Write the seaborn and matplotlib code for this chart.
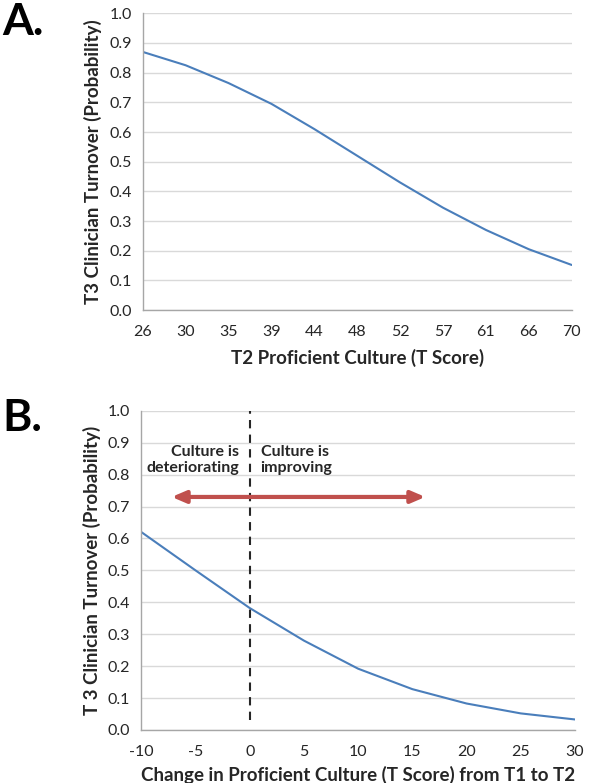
import matplotlib
matplotlib.use("Agg")
import matplotlib.pyplot as plt
import seaborn as sns
import numpy as np
import pandas as pd

# Panel A data
a_labels = ["26", "30", "35", "39", "44", "48", "52", "57", "61", "66", "70"]
a_values = [0.870, 0.825, 0.765, 0.695, 0.610, 0.520, 0.430, 0.345, 0.270, 0.205, 0.152]

# Panel B data
b_change = [-10, -5, 0, 5, 10, 15, 20, 25, 30]
b_values = [0.620, 0.500, 0.382, 0.280, 0.192, 0.128, 0.083, 0.052, 0.033]

sns.set_theme(style="white")
plt.rcParams['font.family'] = ['Lato', 'DejaVu Sans']

LINE = "#4A7EBB"
GRID = "#D9D9D9"
AXC = "#A6A6A6"
TXT = "#262626"

fig = plt.figure(figsize=(6.15, 7.83), dpi=100)
axA = fig.add_axes([0.232, 0.604, 0.6976, 0.379])
axB = fig.add_axes([0.2298, 0.0677, 0.705, 0.4077])

def style(ax):
    ax.set_ylim(0, 1.0)
    ax.set_yticks(np.arange(0, 1.01, 0.1))
    ax.set_yticklabels([f"{v:.1f}" for v in np.arange(0, 1.01, 0.1)])
    ax.yaxis.grid(True, color=GRID, linewidth=1.0)
    ax.set_axisbelow(True)
    for s in ["top", "right"]:
        ax.spines[s].set_visible(False)
    for s in ["left", "bottom"]:
        ax.spines[s].set_color(AXC)
        ax.spines[s].set_linewidth(1.0)
    ax.tick_params(axis="both", which="both", direction="out", length=5,
                   color=AXC, labelsize=11.5, labelcolor=TXT, width=1.0)
    ax.tick_params(axis="y", length=5, pad=3)
    ax.tick_params(axis="x", pad=6)

# Panel A
dfA = pd.DataFrame({"pos": np.arange(len(a_labels)), "p": a_values})
sns.lineplot(data=dfA, x="pos", y="p", ax=axA, color=LINE, linewidth=1.5)
style(axA)
axA.set_xlim(0, len(a_labels) - 1)
axA.set_xticks(np.arange(len(a_labels)))
axA.set_xticklabels(a_labels)
axA.set_xlabel("T2 Proficient Culture (T Score)", fontsize=13.5, fontweight="bold", color=TXT, labelpad=7)
axA.set_ylabel("T3 Clinician Turnover (Probability)", fontsize=13.5, fontweight="bold", color=TXT, labelpad=5)

# Panel B
dfB = pd.DataFrame({"chg": b_change, "p": b_values})
sns.lineplot(data=dfB, x="chg", y="p", ax=axB, color=LINE, linewidth=1.5)
style(axB)
axB.set_xlim(-10, 30)
axB.set_xticks(b_change)
axB.set_xticklabels([str(v) for v in b_change])
axB.set_xlabel("Change in Proficient Culture (T Score) from T1 to T2", fontsize=13.5, fontweight="bold", color=TXT, labelpad=5)
axB.set_ylabel("T 3 Clinician Turnover (Probability)", fontsize=13.5, fontweight="bold", color=TXT, labelpad=5)

axB.plot([0, 0], [0.03, 1.0], linestyle=(0, (4, 3)), color="#262626", linewidth=1.5)
axB.annotate("", xy=(-7.2, 0.73), xytext=(16.2, 0.73),
             arrowprops=dict(arrowstyle="<|-|>,head_length=0.7,head_width=0.3",
                             color="#C0504D", linewidth=3, shrinkA=0, shrinkB=0))
axB.text(-1.0, 0.845, "Culture is\ndeteriorating", ha="right", va="center",
         fontsize=11.5, fontweight="bold", color=TXT, linespacing=1.2, multialignment="right")
axB.text(1.0, 0.845, "Culture is\nimproving", ha="left", va="center",
         fontsize=11.5, fontweight="bold", color=TXT, linespacing=1.2)

fig.text(0.004, 0.972, "A.", fontsize=32, fontweight="bold", color="black", va="center", ha="left")
fig.text(0.004, 0.466, "B.", fontsize=32, fontweight="bold", color="black", va="center", ha="left")

fig.savefig("out.png", dpi=100)
